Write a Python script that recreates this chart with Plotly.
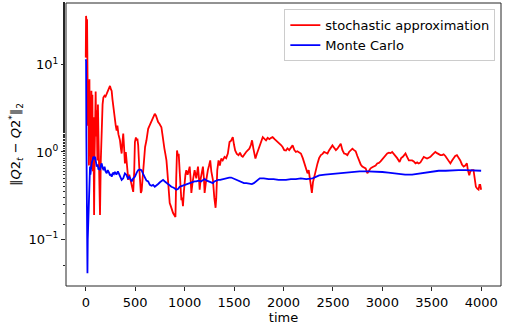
import plotly.graph_objects as go

# stochastic approximation (red)
t_red = [0, 3, 8, 13, 17, 22, 27, 32, 37, 42, 47, 52, 57, 62, 67, 72, 78, 84, 90, 95, 100, 106, 111, 117, 123, 130, 137, 144, 152, 161, 170, 178, 190, 200, 211, 222, 235, 245, 255, 262, 270, 278, 287, 295, 303, 312, 320, 330, 338, 346, 355, 363, 371, 379, 388, 396, 405, 413, 422, 430, 440, 450, 463, 472, 480, 490, 497, 507, 514, 522, 530, 540, 550, 557, 565, 575, 583, 591, 600, 614, 631, 645, 660, 675, 690, 698, 710, 720, 732, 745, 755, 765, 775, 782, 795, 805, 816, 825, 835, 849, 860, 870, 883, 895, 907, 915, 923, 932, 940, 950, 958, 967, 975, 983, 992, 1000, 1008, 1017, 1030, 1040, 1051, 1060, 1068, 1080, 1090, 1101, 1118, 1135, 1145, 1152, 1163, 1175, 1185, 1195, 1202, 1215, 1225, 1235, 1247, 1259, 1270, 1286, 1300, 1313, 1320, 1330, 1343, 1356, 1370, 1385, 1404, 1420, 1437, 1446, 1454, 1470, 1487, 1500, 1511, 1528, 1545, 1560, 1575, 1588, 1605, 1622, 1640, 1655, 1670, 1682, 1695, 1716, 1730, 1745, 1756, 1773, 1790, 1810, 1823, 1840, 1857, 1875, 1890, 1910, 1924, 1940, 1958, 1975, 1991, 2008, 2025, 2040, 2058, 2075, 2092, 2110, 2125, 2140, 2160, 2176, 2195, 2210, 2225, 2243, 2255, 2265, 2278, 2287, 2298, 2310, 2327, 2344, 2360, 2378, 2395, 2411, 2428, 2445, 2462, 2480, 2495, 2512, 2530, 2545, 2562, 2579, 2596, 2613, 2630, 2646, 2663, 2680, 2697, 2714, 2730, 2747, 2764, 2781, 2797, 2814, 2831, 2848, 2865, 2881, 2898, 2915, 2932, 2948, 2965, 2982, 2999, 3016, 3032, 3049, 3066, 3083, 3099, 3116, 3133, 3150, 3174, 3190, 3207, 3220, 3234, 3250, 3268, 3285, 3301, 3318, 3335, 3352, 3368, 3385, 3402, 3419, 3436, 3452, 3469, 3486, 3502, 3519, 3536, 3553, 3570, 3587, 3603, 3620, 3637, 3654, 3671, 3688, 3705, 3720, 3737, 3754, 3771, 3788, 3805, 3822, 3838, 3855, 3865, 3879, 3890, 3905, 3922, 3934, 3946, 3960, 3973, 3982, 3990, 3999]
v_red = [12, 36, 30, 33, 7.0, 2.0, 6.5, 0.7, 6.8, 0.9, 3.5, 0.67, 5.0, 1.5, 4.5, 0.6, 2.5, 0.19, 1.0, 4.5, 4.9, 1.5, 3.0, 0.8, 3.5, 1.2, 0.4, 0.19, 0.8, 1.92, 3.5, 4.2, 4.4, 4.3, 4.6, 5.0, 5.3, 5.7, 5.2, 5.0, 4.0, 3.25, 2.6, 2.3, 2.0, 1.76, 2.0, 1.6, 1.5, 1.36, 1.1, 0.96, 1.3, 1.62, 1.1, 0.74, 1.0, 0.74, 0.6, 0.48, 0.55, 0.5, 0.44, 0.4, 0.35, 0.6, 1.3, 1.47, 1.36, 1.42, 1.2, 0.7, 0.36, 0.34, 0.36, 0.5, 0.8, 1.04, 1.14, 1.36, 1.84, 2.0, 2.2, 2.4, 2.6, 2.73, 2.6, 2.4, 2.2, 2.1, 2.0, 1.92, 1.6, 1.36, 1.1, 0.95, 0.80, 0.6, 0.4, 0.26, 0.24, 0.22, 0.20, 0.19, 0.18, 0.5, 1.04, 0.9, 0.95, 0.6, 0.4, 0.28, 0.3, 0.24, 0.35, 0.5, 0.55, 0.62, 0.55, 0.6, 0.68, 0.5, 0.34, 0.45, 0.55, 0.62, 0.5, 0.68, 0.5, 0.37, 0.5, 0.6, 0.68, 0.5, 0.34, 0.45, 0.55, 0.62, 0.7, 0.80, 0.6, 0.48, 0.3, 0.23, 0.3, 0.62, 0.8, 0.7, 0.84, 0.8, 0.88, 0.85, 0.96, 1.1, 1.3, 1.35, 1.48, 1.2, 1.04, 0.95, 0.92, 0.98, 0.9, 0.88, 0.95, 1.0, 1.05, 1.09, 1.2, 1.36, 1.1, 0.84, 0.95, 1.05, 1.14, 1.3, 1.48, 1.4, 1.36, 1.45, 1.40, 1.45, 1.48, 1.4, 1.36, 1.3, 1.25, 1.2, 1.14, 1.05, 1.04, 1.1, 1.05, 1.12, 1.19, 1.05, 1.0, 1.02, 0.98, 0.96, 0.85, 0.74, 0.65, 0.57, 0.62, 0.5, 0.4, 0.34, 0.45, 0.52, 0.62, 0.74, 0.85, 0.92, 0.95, 1.0, 0.98, 0.96, 1.05, 1.12, 1.19, 1.12, 1.05, 1.09, 1.15, 1.24, 1.05, 0.96, 0.95, 0.92, 1.0, 1.05, 1.09, 1.05, 1.02, 0.9, 0.80, 0.72, 0.68, 0.66, 0.65, 0.57, 0.62, 0.65, 0.67, 0.68, 0.7, 0.74, 0.75, 0.78, 0.82, 0.88, 0.92, 0.96, 0.98, 0.97, 1.0, 0.95, 0.92, 0.85, 0.77, 0.85, 0.88, 0.92, 0.96, 0.88, 0.80, 0.80, 0.80, 0.78, 0.74, 0.76, 0.74, 0.76, 0.82, 0.88, 0.86, 0.84, 0.86, 0.88, 0.92, 0.96, 1.0, 0.97, 0.94, 0.92, 0.92, 0.94, 0.9, 0.84, 0.77, 0.74, 0.8, 0.86, 0.9, 0.92, 0.86, 0.80, 0.72, 0.68, 0.70, 0.74, 0.62, 0.54, 0.6, 0.62, 0.62, 0.5, 0.40, 0.38, 0.37, 0.42, 0.42, 0.37]

# Monte Carlo (blue)
t_blue = [0, 3, 6, 9, 12, 15, 17, 20, 24, 28, 32, 36, 40, 43, 47, 52, 60, 70, 77, 85, 94, 102, 111, 120, 128, 136, 144, 152, 161, 170, 180, 190, 200, 212, 222, 235, 245, 255, 262, 275, 285, 295, 310, 325, 340, 355, 363, 379, 396, 410, 425, 440, 452, 463, 480, 497, 515, 530, 545, 564, 580, 597, 614, 631, 648, 665, 681, 698, 715, 732, 750, 765, 782, 800, 820, 840, 866, 890, 917, 935, 950, 975, 1000, 1025, 1051, 1075, 1100, 1118, 1140, 1165, 1185, 1202, 1225, 1250, 1270, 1286, 1300, 1320, 1340, 1360, 1387, 1410, 1430, 1450, 1471, 1490, 1510, 1530, 1555, 1580, 1600, 1625, 1655, 1680, 1700, 1720, 1740, 1760, 1773, 1800, 1850, 1900, 1950, 2000, 2025, 2075, 2125, 2175, 2230, 2294, 2330, 2361, 2420, 2490, 2560, 2630, 2700, 2770, 2850, 2898, 2950, 3000, 3060, 3110, 3167, 3230, 3301, 3350, 3400, 3460, 3520, 3570, 3640, 3700, 3770, 3839, 3900, 3950, 3999]
v_blue = [11.5, 11.0, 1.5, 0.11, 0.2, 0.08, 0.041, 0.1, 0.14, 0.2, 0.35, 0.3, 0.6, 0.68, 0.55, 0.7, 0.75, 0.82, 0.88, 0.85, 0.88, 0.78, 0.68, 0.72, 0.63, 0.66, 0.62, 0.7, 0.74, 0.66, 0.62, 0.68, 0.6, 0.57, 0.62, 0.58, 0.54, 0.56, 0.52, 0.58, 0.56, 0.59, 0.55, 0.6, 0.55, 0.52, 0.48, 0.5, 0.57, 0.55, 0.5, 0.52, 0.48, 0.46, 0.5, 0.52, 0.58, 0.62, 0.63, 0.62, 0.56, 0.5, 0.47, 0.46, 0.42, 0.41, 0.42, 0.40, 0.42, 0.43, 0.45, 0.47, 0.48, 0.46, 0.44, 0.42, 0.40, 0.39, 0.37, 0.38, 0.40, 0.41, 0.42, 0.43, 0.44, 0.45, 0.46, 0.46, 0.47, 0.46, 0.48, 0.49, 0.47, 0.46, 0.45, 0.44, 0.46, 0.47, 0.48, 0.48, 0.49, 0.50, 0.50, 0.51, 0.51, 0.50, 0.48, 0.47, 0.46, 0.45, 0.44, 0.44, 0.43, 0.43, 0.44, 0.46, 0.48, 0.50, 0.50, 0.50, 0.49, 0.49, 0.48, 0.48, 0.48, 0.49, 0.49, 0.50, 0.49, 0.50, 0.52, 0.54, 0.55, 0.56, 0.57, 0.59, 0.60, 0.60, 0.60, 0.60, 0.59, 0.59, 0.58, 0.57, 0.57, 0.55, 0.55, 0.56, 0.58, 0.59, 0.60, 0.61, 0.61, 0.62, 0.62, 0.62, 0.62, 0.62, 0.61]

x_ticks = [0, 500, 1000, 1500, 2000, 2500, 3000, 3500, 4000]
y_ticks = [0.1, 1, 10]
y_tick_text = ["10<sup>\u22121</sup>", "10<sup>0</sup>", "10<sup>1</sup>"]

FONT = "DejaVu Sans"
FS = 13

fig = go.Figure()
fig.add_trace(go.Scatter(x=t_red, y=v_red, mode="lines", name="stochastic approximation",
                         line=dict(color="#ff0000", width=1.8)))
fig.add_trace(go.Scatter(x=t_blue, y=v_blue, mode="lines", name="Monte Carlo",
                         line=dict(color="#0000ff", width=1.8)))

fig.update_layout(
    width=505, height=328,
    margin=dict(l=66, r=4, t=3, b=42),
    paper_bgcolor="white", plot_bgcolor="white",
    font=dict(family=FONT, size=FS, color="black"),
    showlegend=True,
    legend=dict(x=0.987, y=0.978, xanchor="right", yanchor="top",
                bordercolor="#cccccc", borderwidth=1, bgcolor="rgba(255,255,255,0.8)",
                font=dict(family=FONT, size=FS), tracegroupgap=0,
                itemwidth=30),
    shapes=[dict(type="rect", xref="paper", yref="paper", x0=0, x1=1, y0=0, y1=1,
                 line=dict(color="#262626", width=1), fillcolor="rgba(0,0,0,0)", layer="above")],
)
fig.update_xaxes(
    range=[-200, 4200], tickvals=x_ticks, ticks="outside", ticklen=4, tickcolor="#262626",
    tickfont=dict(family=FONT, size=FS),
    showline=False, showgrid=False, zeroline=False,
    title=dict(text="time", font=dict(family=FONT, size=FS), standoff=2),
)
fig.update_yaxes(
    type="log", range=[-1.533, 1.704], tickvals=y_ticks, ticktext=y_tick_text,
    ticks="outside", ticklen=4, tickcolor="#262626",
    tickfont=dict(family=FONT, size=FS),
    minor=dict(ticks="outside", ticklen=2, tickcolor="#262626", showgrid=False),
    showline=False, showgrid=False, zeroline=False,
    title=dict(text="\u2016<i>Q</i>2<sub><i>t</i></sub> \u2212 <i>Q</i>2<sup>*</sup>\u2016<sub>2</sub>",
               font=dict(family=FONT, size=FS), standoff=4),
)

fig.write_html("out.html", config={"displayModeBar": False},
               post_script="document.body.style.margin='0';document.body.style.padding='0';")
